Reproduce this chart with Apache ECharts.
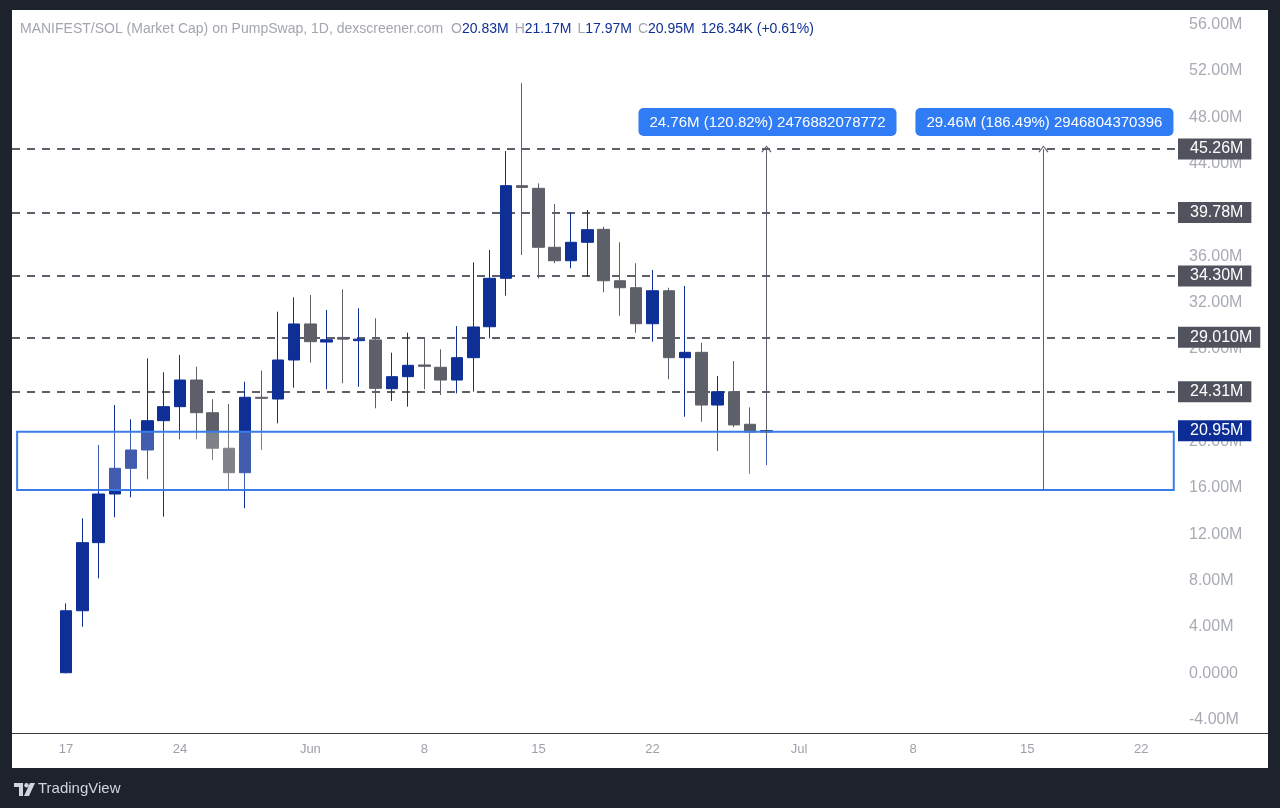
<!DOCTYPE html>
<html><head><meta charset="utf-8">
<script src="https://cdn.jsdelivr.net/npm/echarts@6/dist/echarts.min.js"></script>
<style>html,body{margin:0;padding:0;background:#1e222d;}#chart{width:1280px;height:808px;}</style>
</head><body><div id="chart"></div>
<script>
// ---- data ----
const dates = ['2025-05-17','2025-05-18','2025-05-19','2025-05-20','2025-05-21','2025-05-22','2025-05-23','2025-05-24','2025-05-25','2025-05-26','2025-05-27','2025-05-28','2025-05-29','2025-05-30','2025-05-31','2025-06-01','2025-06-02','2025-06-03','2025-06-04','2025-06-05','2025-06-06','2025-06-07','2025-06-08','2025-06-09','2025-06-10','2025-06-11','2025-06-12','2025-06-13','2025-06-14','2025-06-15','2025-06-16','2025-06-17','2025-06-18','2025-06-19','2025-06-20','2025-06-21','2025-06-22','2025-06-23','2025-06-24','2025-06-25','2025-06-26','2025-06-27','2025-06-28','2025-06-29'];
const openV  = [0.05,5.40,11.28,15.48,17.70,19.28,21.81,23.02,25.32,22.50,19.43,17.32,23.83,23.68,27.05,30.16,28.60,29.00,28.72,28.78,24.57,25.61,26.62,26.42,25.32,27.25,29.92,34.10,42.10,41.87,36.78,35.62,37.21,38.33,33.89,33.29,30.18,33.03,27.25,27.71,23.16,24.31,21.50,20.83];
const closeV = [5.40,11.28,15.48,17.70,19.28,21.81,23.02,25.32,22.50,19.43,17.32,23.83,23.74,27.05,30.16,28.63,28.80,28.85,28.85,24.60,25.61,26.59,26.50,25.32,27.25,29.90,34.10,42.10,41.95,36.78,35.62,37.21,38.30,33.89,33.29,30.18,33.03,27.25,27.71,23.16,24.31,21.44,20.82,20.95];
const lowV   = [0.00,4.02,8.20,13.47,15.19,16.75,13.52,20.20,20.20,18.41,15.83,14.25,19.28,21.58,24.66,26.82,24.52,25.04,24.74,22.88,23.51,23.02,24.52,24.03,24.17,24.31,28.92,32.60,36.11,34.10,35.40,34.97,34.24,32.89,30.87,29.40,28.63,25.38,22.15,21.72,19.19,21.24,17.21,17.97];
const highV  = [6.04,13.38,19.71,23.16,21.93,27.19,25.99,27.48,26.47,23.66,23.25,25.17,26.14,31.22,32.46,32.66,31.37,33.15,31.51,30.65,27.68,29.41,28.92,27.97,29.98,35.48,36.55,45.09,50.94,42.30,40.52,39.80,40.00,38.56,37.21,35.40,34.82,33.29,33.44,28.54,25.67,26.96,22.96,21.17];

const levelValues = [45.26, 39.78, 34.30, 29.01, 24.31];
const levelLabels = ['45.26M', '39.78M', '34.30M', '29.010M', '24.31M'];
const lastPrice = 20.95;
const lastPriceLabel = '20.95M';

const zoneDates = ['2025-05-14', '2025-07-24'];
const zoneValues = [20.85, 15.83];

const measureDates = ['2025-06-29', '2025-07-16'];
const measureFrom = [20.50, 15.80];
const measureTo = [45.26, 45.26];
const measureTexts = ['24.76M (120.82%) 2476882078772', '29.46M (186.49%) 2946804370396'];

const xTickDates = ['2025-05-17','2025-05-24','2025-06-01','2025-06-08','2025-06-15','2025-06-22','2025-07-01','2025-07-08','2025-07-15','2025-07-22'];
const xTickLabels = ['17','24','Jun','8','15','22','Jul','8','15','22'];
const yTicks = [-4,0,4,8,12,16,20,24,28,32,36,40,44,48,52,56];

const headerTitle = 'MANIFEST/SOL (Market Cap) on PumpSwap, 1D, dexscreener.com';
const headerOHLC = [['O','20.83M'],['H','21.17M'],['L','17.97M'],['C','20.95M']];
const headerChange = '126.34K (+0.61%)';

// ---- build ----
const DAY = 86400000;
const t0 = Date.parse(dates[0]);
const dayIdx = s => Math.round((Date.parse(s) - t0) / DAY);

const candleData = dates.map((d, i) => [dayIdx(d), openV[i], closeV[i], lowV[i], highV[i]]);
const tickIdx = xTickDates.map(dayIdx);

const UP = '#0e2f96', DOWN = '#5d5f69';
const FONT = 'Liberation Sans, Arial, sans-serif';

const levelItems = levelValues.map((v, i) => ({ yAxis: v, label: { formatter: levelLabels[i] } }));
levelItems.push({
  yAxis: lastPrice,
  lineStyle: { color: 'rgba(0,0,0,0)', width: 0 },
  label: { formatter: lastPriceLabel, backgroundColor: '#0c2d96' }
});

const rich = {
  g: { fill: '#a3a6af', fontSize: 14, fontFamily: FONT },
  b: { fill: '#0e2f96', fontSize: 14, fontFamily: FONT, padding: [0, 6, 0, 0] },
  c: { fill: '#0e2f96', fontSize: 14, fontFamily: FONT }
};
let headerText = '{g|' + headerTitle + '  }';
headerOHLC.forEach(p => { headerText += '{g|' + p[0] + '}{b|' + p[1] + '}'; });
headerText += '{c|' + headerChange + '}';

const chart = echarts.init(document.getElementById('chart'), null, { renderer: 'canvas' });
chart.setOption({
  backgroundColor: '#1e222d',
  animation: false,
  grid: { left: 12, right: 102, top: 10, bottom: 75, containLabel: false },
  xAxis: {
    type: 'value', min: -3.315, max: 68.26,
    splitLine: { show: false },
    axisLine: { show: false }, axisTick: { show: false },
    axisLabel: {
      customValues: tickIdx, color: '#9da0a8', fontSize: 13, fontFamily: FONT, margin: 10,
      formatter: v => xTickLabels[tickIdx.indexOf(Math.round(v))] || ''
    }
  },
  yAxis: {
    type: 'value', position: 'right', min: -5.154, max: 57.266, scale: true,
    splitLine: { show: false },
    axisLine: { show: false }, axisTick: { show: false },
    axisLabel: {
      customValues: yTicks, color: '#a8abb3', fontSize: 16, fontFamily: FONT, margin: 11,
      formatter: v => (Math.abs(v) < 1e-9 ? '0.0000' : v.toFixed(2) + 'M')
    }
  },
  graphic: [
    { type: 'rect', z: -100, shape: { x: 12, y: 10, width: 1256, height: 758 }, style: { fill: '#ffffff' } },
    { type: 'line', z: 1, shape: { x1: 12, y1: 733.5, x2: 1268, y2: 733.5 }, style: { stroke: '#3a3d46', lineWidth: 1 } },
    { type: 'text', z: 10, style: { x: 20, y: 29, text: headerText, rich: rich, verticalAlign: 'middle' } },
    { type: 'group', x: 14, y: 783, children: [
      { type: 'polygon', shape: { points: [[0,0],[9,0],[9,13],[5,13],[5,4],[0,4]] }, style: { fill: '#d1d4dc' } },
      { type: 'circle', shape: { cx: 12.5, cy: 2.2, r: 2.2 }, style: { fill: '#d1d4dc' } },
      { type: 'polygon', shape: { points: [[16,0],[21,0],[15,13],[10,13]] }, style: { fill: '#d1d4dc' } }
    ]},
    { type: 'text', style: { x: 38, y: 789, text: 'TradingView', fill: '#d1d4dc', fontSize: 15, fontFamily: FONT, fontWeight: 500, verticalAlign: 'middle' } }
  ],
  series: [
    {
      name: 'levels', type: 'line', data: [], z: 1, clip: false, silent: true,
      markLine: {
        silent: true, symbol: 'none', z: 1, animation: false,
        lineStyle: { type: [8, 7], color: '#5d5f69', width: 2 },
        label: { position: 'end', distance: 0, color: '#ffffff', fontSize: 16, fontFamily: FONT,
          backgroundColor: '#50535e', padding: [3, 8, 2, 12] },
        data: levelItems
      }
    },
    {
      name: 'MANIFEST/SOL', type: 'candlestick', z: 3,
      barWidth: 12,
      data: candleData,
      itemStyle: { color: UP, color0: DOWN, borderColor: UP, borderColor0: DOWN, borderWidth: 1 }
    },
    {
      name: 'zone', type: 'line', data: [], z: 4, silent: true,
      markArea: {
        silent: true, z: 4,
        itemStyle: { color: 'rgba(255,255,255,0.22)', borderColor: '#3b7de8', borderWidth: 2 },
        data: [[{ coord: [dayIdx(zoneDates[0]), zoneValues[0]] }, { coord: [dayIdx(zoneDates[1]), zoneValues[1]] }]]
      }
    },
    {
      name: 'measure', type: 'scatter', z: 6, clip: false, silent: true, symbolSize: 0,
      itemStyle: { opacity: 1 },
      data: measureDates.map((d, i) => ({
        value: [dayIdx(d), measureTo[i]],
        label: { formatter: measureTexts[i] }
      })),
      label: {
        show: true, position: 'top', distance: 13, offset: [1, 0], color: '#ffffff', fontSize: 15, fontFamily: FONT,
        backgroundColor: '#2f7cf5', borderRadius: 5, padding: [7, 11, 6, 11], opacity: 1
      },
      markLine: {
        silent: true, z: 6, animation: false,
        symbol: ['none', 'path://M0,8 L5,0 L10,8 L9,9 L5,2 L1,9 Z'], symbolSize: [10, 7],
        lineStyle: { type: 'solid', color: '#5d606b', width: 1 },
        label: { show: false },
        data: measureDates.map((d, i) => [{ coord: [dayIdx(d), measureFrom[i]] }, { coord: [dayIdx(d), measureTo[i]] }])
      }
    }
  ]
});
</script></body></html>
